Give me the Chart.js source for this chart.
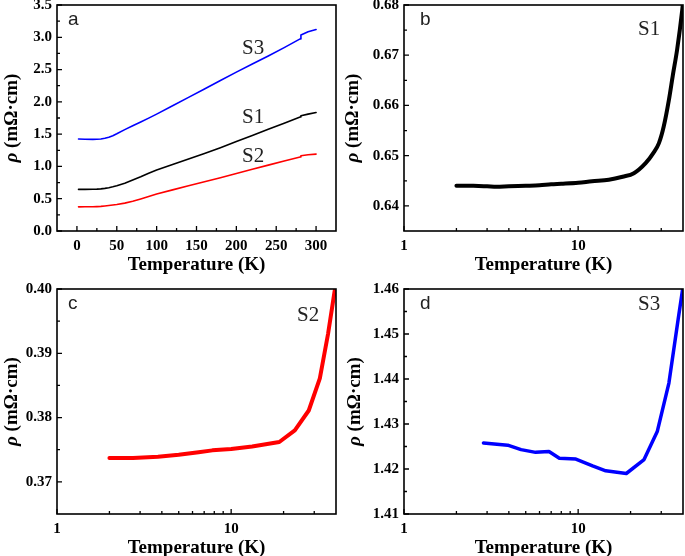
<!DOCTYPE html>
<html><head><meta charset="utf-8">
<script src="https://cdn.jsdelivr.net/npm/chart.js@4.4.0/dist/chart.umd.min.js"></script>
<style>
html,body{margin:0;padding:0;background:#fff;width:685px;height:556px;overflow:hidden;position:relative}
.p{position:absolute}
</style></head><body>
<div class="p" id="wa"><canvas id="ca"></canvas></div>
<div class="p" id="wb"><canvas id="cb"></canvas></div>
<div class="p" id="wc"><canvas id="cc"></canvas></div>
<div class="p" id="wd"><canvas id="cd"></canvas></div>
<script>
// ---------- data ----------
// panel a: full temperature range
const tempA  = [2, 10, 20, 25, 30, 35, 40, 45, 50, 60, 70, 80, 90, 100, 120, 140, 160, 180, 200, 220, 240, 260, 280, 281, 290, 300];
const rhoS1A = [0.644, 0.645, 0.646, 0.648, 0.652, 0.660, 0.670, 0.684, 0.700, 0.740, 0.790, 0.840, 0.895, 0.945, 1.030, 1.115, 1.200, 1.290, 1.385, 1.480, 1.575, 1.670, 1.765, 1.785, 1.810, 1.835];
const rhoS2A = [0.374, 0.375, 0.376, 0.378, 0.381, 0.387, 0.394, 0.402, 0.410, 0.432, 0.460, 0.497, 0.535, 0.572, 0.637, 0.700, 0.762, 0.826, 0.890, 0.955, 1.020, 1.085, 1.145, 1.165, 1.180, 1.190];
const rhoS3A = [1.425, 1.422, 1.419, 1.420, 1.425, 1.437, 1.452, 1.475, 1.505, 1.570, 1.630, 1.688, 1.748, 1.810, 1.940, 2.070, 2.200, 2.330, 2.460, 2.585, 2.710, 2.840, 2.975, 3.035, 3.085, 3.120];
const xTicksA = [0, 50, 100, 150, 200, 250, 300];
const xMinorA = [25, 75, 125, 175, 225, 275];
const yTicksA = [0.0, 0.5, 1.0, 1.5, 2.0, 2.5, 3.0, 3.5];
const yMinorA = [0.25, 0.75, 1.25, 1.75, 2.25, 2.75, 3.25];

// panel b: S1 low temperature
const tempB = [2, 2.5, 3, 3.4, 4, 5, 6, 7, 8, 10, 12, 15, 18, 20.9, 24.4, 27, 29.1, 31, 33.2, 35, 37, 39.6, 40];
const rhoB  = [0.6440, 0.6440, 0.6439, 0.6438, 0.6439, 0.6440, 0.6441, 0.6443, 0.6444, 0.6446, 0.6449, 0.6452, 0.6458, 0.6465, 0.6485, 0.6505, 0.6525, 0.6558, 0.6611, 0.6661, 0.6711, 0.6790, 0.6805];
const yTicksB = [0.64, 0.65, 0.66, 0.67, 0.68];
const yMinorB = [0.645, 0.655, 0.665, 0.675];

// panel c: S2 low temperature
const tempC = [2, 2.73, 3.8, 5.0, 6.5, 7.8, 10, 13.2, 18.9, 23.2, 27.9, 32.3, 36.0, 39.3, 40];
const rhoC  = [0.3737, 0.3737, 0.3739, 0.3742, 0.3746, 0.3749, 0.3751, 0.3755, 0.3762, 0.3780, 0.3811, 0.3861, 0.3930, 0.3997, 0.4005];
const yTicksC = [0.37, 0.38, 0.39, 0.40];
const yMinorC = [0.375, 0.385, 0.395];

// panel d: S3 low temperature
const tempD = [2.86, 3.94, 4.7, 5.7, 6.8, 7.8, 9.7, 12.1, 14.4, 18.9, 23.9, 28.5, 33.2, 37.5, 40];
const rhoD  = [1.4258, 1.4253, 1.4243, 1.4237, 1.4239, 1.4224, 1.4222, 1.4207, 1.4196, 1.4190, 1.4221, 1.4284, 1.4391, 1.4532, 1.4605];
const yTicksD = [1.41, 1.42, 1.43, 1.44, 1.45, 1.46];
const yMinorD = [1.415, 1.425, 1.435, 1.445, 1.455];

// log axis ticks (panels b-d)
const logTicks = [1, 10];
const logMinor = [2, 3, 4, 5, 6, 7, 8, 9, 20, 30];

const xTitle = 'Temperature (K)';
const yTitleSym = 'ρ';
const yTitleUnit = ' (mΩ·cm)';

// ---------- drawing ----------
const SERIF = '"Liberation Serif", "Times New Roman", serif';
const SANS = '"Liberation Sans", Arial, sans-serif';
const PADL = 60, PADT = 20, PADR = 20, PADB = 50;

const deco = {
  id: 'deco',
  afterDatasetsDraw(chart, args, o) {
    const ctx = chart.ctx, a = chart.chartArea;
    const xs = chart.scales.x, ys = chart.scales.y;
    ctx.save();
    ctx.strokeStyle = '#000';
    ctx.lineWidth = 1.6;
    ctx.strokeRect(a.left, a.top, a.right - a.left, a.bottom - a.top);
    ctx.lineWidth = 1.3;
    ctx.beginPath();
    const tickX = (vals, len) => vals.forEach(v => {
      const px = xs.getPixelForValue(v);
      ctx.moveTo(px, a.bottom); ctx.lineTo(px, a.bottom - len);
    });
    const tickY = (vals, len) => vals.forEach(v => {
      const py = ys.getPixelForValue(v);
      ctx.moveTo(a.left, py); ctx.lineTo(a.left + len, py);
    });
    tickX(o.xMajor, 5); tickX(o.xMinor, 3);
    tickY(o.yMajor, 5); tickY(o.yMinor, 3);
    ctx.stroke();
    // panel letter
    ctx.fillStyle = '#222';
    ctx.font = '19px ' + SANS;
    ctx.textBaseline = 'alphabetic';
    ctx.textAlign = 'left';
    ctx.fillText(o.letter, a.left + o.letterDx, a.top + 20);
    // sample labels
    ctx.font = '21px ' + SERIF;
    o.labels.forEach(l => ctx.fillText(l.t, a.left + l.dx, a.top + l.dy));
    // x title
    ctx.fillStyle = '#000';
    ctx.font = 'bold 19px ' + SERIF;
    ctx.textAlign = 'center';
    ctx.textBaseline = 'middle';
    ctx.fillText(xTitle, (a.left + a.right) / 2, a.bottom + o.xTitleDy);
    // y title
    ctx.translate(a.left + o.yTitleDx, (a.top + a.bottom) / 2);
    ctx.rotate(-Math.PI / 2);
    ctx.font = 'italic bold 19px ' + SERIF;
    const w1 = ctx.measureText(yTitleSym).width;
    ctx.font = 'bold 19px ' + SERIF;
    const w2 = ctx.measureText(yTitleUnit).width;
    ctx.textAlign = 'left';
    let sx = -(w1 + w2) / 2;
    ctx.font = 'italic bold 19px ' + SERIF;
    ctx.fillText(yTitleSym, sx, 0);
    ctx.font = 'bold 19px ' + SERIF;
    ctx.fillText(yTitleUnit, sx + w1, 0);
    ctx.restore();
  }
};

function makePanel(id, area, p) {
  const wrap = document.getElementById('w' + id);
  const cv = document.getElementById('c' + id);
  const W = area.r - area.l + PADL + PADR, H = area.b - area.t + PADT + PADB;
  wrap.style.left = (area.l - PADL) + 'px';
  wrap.style.top = (area.t - PADT) + 'px';
  cv.width = W; cv.height = H;
  cv.style.width = W + 'px'; cv.style.height = H + 'px';
  const tickFont = { family: SERIF, size: 15, weight: 'bold' };
  new Chart(cv, {
    type: 'line',
    data: {
      datasets: p.series.map(s => ({
        data: s.x.map((v, i) => ({ x: v, y: s.y[i] })),
        borderColor: s.color, borderWidth: s.width,
        pointRadius: 0, tension: s.tension || 0, cubicInterpolationMode: s.tension ? 'monotone' : 'default',
        borderJoinStyle: 'round', borderCapStyle: 'round', fill: false
      }))
    },
    options: {
      responsive: false, animation: false, devicePixelRatio: 1,
      layout: { padding: { left: 0, top: PADT, right: PADR, bottom: 0 } },
      plugins: {
        legend: { display: false }, tooltip: { enabled: false },
        deco: {
          xMajor: p.xTicks, xMinor: p.xMinor, yMajor: p.yTicks, yMinor: p.yMinor,
          letter: p.letter, letterDx: p.letterDx, labels: p.labels,
          xTitleDy: 34, yTitleDx: p.yTitleDx
        }
      },
      scales: {
        x: {
          type: p.xType, min: p.xMin, max: p.xMax, position: 'bottom',
          afterFit(s) { s.height = PADB; },
          afterBuildTicks(s) { s.ticks = p.xTicks.map(v => ({ value: v })); },
          grid: { display: false, drawTicks: false }, border: { display: false },
          ticks: { font: tickFont, color: '#000', padding: 6, maxRotation: 0, autoSkip: false,
                   callback: v => String(v) }
        },
        y: {
          type: 'linear', min: p.yMin, max: p.yMax, position: 'left',
          afterFit(s) { s.width = PADL; },
          afterBuildTicks(s) { s.ticks = p.yTicks.map(v => ({ value: v })); },
          grid: { display: false, drawTicks: false }, border: { display: false },
          ticks: { font: tickFont, color: '#000', padding: 5, autoSkip: false,
                   callback: v => Number(v).toFixed(p.yDec) }
        }
      }
    },
    plugins: [deco]
  });
}

makePanel('a', { l: 57, t: 5, r: 336, b: 231 }, {
  xType: 'linear', xMin: -25, xMax: 325, yMin: 0, yMax: 3.5, yDec: 1,
  xTicks: xTicksA, xMinor: xMinorA, yTicks: yTicksA, yMinor: yMinorA,
  letter: 'a', letterDx: 11, yTitleDx: -45,
  labels: [{ t: 'S3', dx: 185, dy: 49 }, { t: 'S1', dx: 185, dy: 118 }, { t: 'S2', dx: 185, dy: 157 }],
  series: [
    { x: tempA, y: rhoS3A, color: '#0000ff', width: 1.6 },
    { x: tempA, y: rhoS1A, color: '#000000', width: 1.6 },
    { x: tempA, y: rhoS2A, color: '#ff0000', width: 1.6 }
  ]
});
makePanel('b', { l: 404, t: 5, r: 683, b: 231 }, {
  xType: 'logarithmic', xMin: 1, xMax: 40, yMin: 0.635, yMax: 0.68, yDec: 2,
  xTicks: logTicks, xMinor: logMinor, yTicks: yTicksB, yMinor: yMinorB,
  letter: 'b', letterDx: 16, yTitleDx: -51,
  labels: [{ t: 'S1', dx: 234, dy: 30 }],
  series: [{ x: tempB, y: rhoB, color: '#000000', width: 4, tension: 0.4 }]
});
makePanel('c', { l: 57, t: 289, r: 336, b: 514 }, {
  xType: 'logarithmic', xMin: 1, xMax: 40, yMin: 0.365, yMax: 0.40, yDec: 2,
  xTicks: logTicks, xMinor: logMinor, yTicks: yTicksC, yMinor: yMinorC,
  letter: 'c', letterDx: 11, yTitleDx: -45,
  labels: [{ t: 'S2', dx: 240, dy: 32 }],
  series: [{ x: tempC, y: rhoC, color: '#ff0000', width: 4 }]
});
makePanel('d', { l: 404, t: 289, r: 683, b: 514 }, {
  xType: 'logarithmic', xMin: 1, xMax: 40, yMin: 1.41, yMax: 1.46, yDec: 2,
  xTicks: logTicks, xMinor: logMinor, yTicks: yTicksD, yMinor: yMinorD,
  letter: 'd', letterDx: 16, yTitleDx: -49,
  labels: [{ t: 'S3', dx: 234, dy: 21 }],
  series: [{ x: tempD, y: rhoD, color: '#0000ff', width: 3.5 }]
});
</script>
</body></html>
